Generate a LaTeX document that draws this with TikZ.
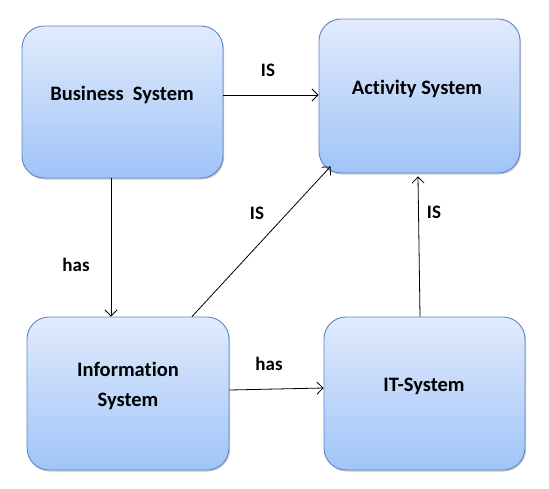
\documentclass[tikz,border=0pt]{standalone}
\usepackage{fontspec}
\setmainfont[Ligatures={NoCommon}]{Carlito}
\usetikzlibrary{arrows.meta,shadows}
\definecolor{boxtop}{RGB}{225,235,252}
\definecolor{boxbot}{RGB}{160,196,248}
\definecolor{boxline}{RGB}{90,135,200}
\tikzset{
  sysbox/.style={draw=boxline, line width=0.9pt, rounded corners=22pt,
    top color=boxtop, bottom color=boxbot,
    drop shadow={shadow xshift=1pt, shadow yshift=-1.5pt, opacity=0.35, fill=black!60},
    inner sep=0pt},
  systext/.style={font=\fontsize{20.5}{30}\selectfont\bfseries, align=center, inner sep=0pt},
  lbl/.style={font=\fontsize{19}{22}\selectfont\bfseries, inner sep=0pt},
  conn/.style={line width=0.8pt, -{Straight Barb[length=6pt,width=12pt,line width=0.8pt]}}
}
\begin{document}
\begin{tikzpicture}[x=1pt,y=-1pt]
\useasboundingbox (0,0) rectangle (549,488);
\node[sysbox, minimum width=201pt, minimum height=152pt] (bs) at (122.5,102) {};
\node[sysbox, minimum width=201pt, minimum height=154pt] (as) at (419.5,96) {};
\node[sysbox, minimum width=202pt, minimum height=153pt] (is) at (128,393.5) {};
\node[sysbox, minimum width=201pt, minimum height=153pt] (it) at (424.5,393.5) {};
\node[systext] (bst) at (122,95) {Business\ \ System};
\node[systext] (ast) at (417,89) {Activity System};
\node[systext] (ist) at (128,386) {Information\\System};
\node[systext] (itt) at (424,386) {IT-System};
\draw[conn] ([yshift=7pt]bs.east) -- ([yshift=1pt]as.west);
\draw[conn] ([xshift=-11.5pt]bs.south) -- ([xshift=-17pt]is.north);
\draw[conn] ([xshift=64pt]is.north) -- ([xshift=12pt,yshift=7pt]as.south west);
\draw[conn] ([yshift=3.5pt]is.east) -- ([yshift=5.5pt]it.west);
\draw[conn] ([xshift=-4.5pt]it.north) -- ([xshift=-1.5pt,yshift=-3pt]as.south);
\node[lbl] (l1) at (268,70) {IS};
\node[lbl] (l2) at (76,265) {has};
\node[lbl] (l3) at (257,213) {IS};
\node[lbl] (l4) at (434,212) {IS};
\node[lbl] (l5) at (269,364) {has};
\end{tikzpicture}
\end{document}
